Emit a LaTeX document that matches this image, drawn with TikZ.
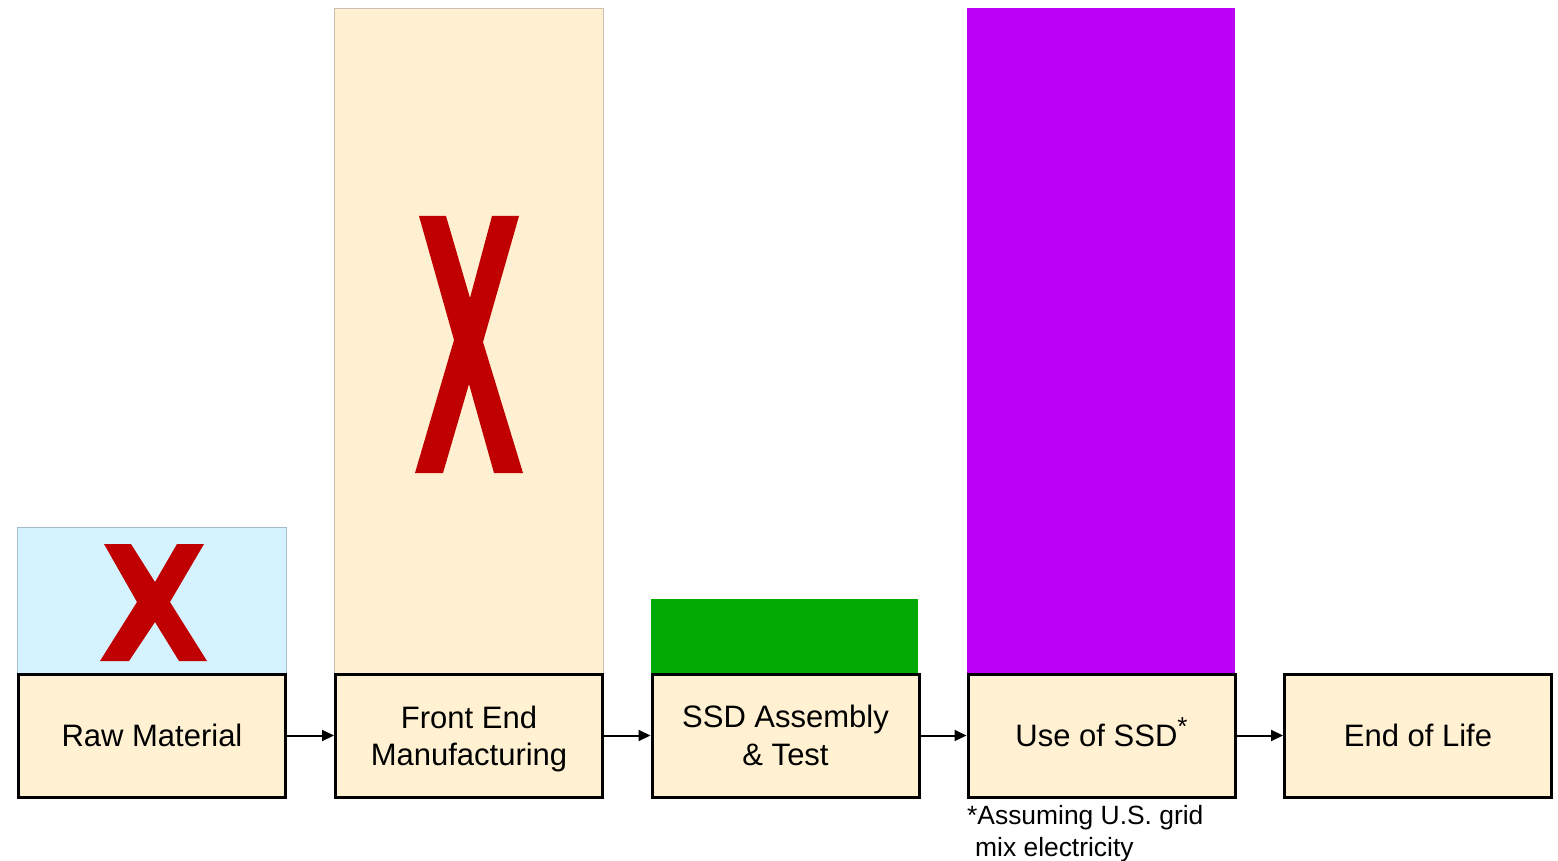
\documentclass[tikz,border=0pt]{standalone}
\usepackage{fontspec}
\setmainfont{Liberation Sans}
\usetikzlibrary{arrows.meta}

\definecolor{boxfill}{HTML}{FFF1D1}
\definecolor{beigebar}{HTML}{FFF0D2}
\definecolor{beigeedge}{HTML}{C9C0B0}
\definecolor{bluebar}{HTML}{D5F2FF}
\definecolor{blueedge}{HTML}{A3BCCB}
\definecolor{greenbar}{HTML}{00AA00}
\definecolor{purplebar}{HTML}{BC00F5}
\definecolor{crossred}{HTML}{C00000}

\tikzset{
  stage/.style={draw=black, line width=3pt, fill=boxfill,
    minimum width=267pt, minimum height=123pt, inner sep=0pt,
    align=center, font=\fontsize{31}{37.5}\selectfont},
  flow/.style={line width=2pt, -{Triangle[length=12pt,width=11pt]}},
  note/.style={anchor=base west, inner sep=0pt, font=\fontsize{26.4}{31}\selectfont},
  cross/.style={fill=crossred}
}

\begin{document}
\begin{tikzpicture}[x=1pt,y=-1pt]
\useasboundingbox (0,0) rectangle (1558,861);

% bars above the stages
\path[fill=bluebar, draw=blueedge, line width=0.8pt] (17,527) rectangle (286,673);
\path[fill=beigebar, draw=beigeedge, line width=0.8pt] (334,8) rectangle (603,673);
\path[fill=greenbar] (651,599) rectangle (918,673);
\path[fill=purplebar] (967,8) rectangle (1235,673);

% crosses
\path[cross] (104,544) -- (131,544) -- (155,582) -- (177,544) -- (204,544)
  -- (170,602) -- (207,661) -- (179,661) -- (155,622) -- (129,661)
  -- (100,661) -- (137,602) -- cycle;
\path[cross] (419,216) -- (446,216) -- (470,298) -- (492,216) -- (519,216)
  -- (483,342) -- (523,473) -- (494,473) -- (469,384) -- (443,473)
  -- (415,473) -- (454,340) -- cycle;

% stages
\node[stage] (raw) at (152,735.5) {Raw Material};
\node[stage] (fem) at (469,735.5)
  {\raisebox{-3.5pt}[\height][\depth]{\parbox{260pt}{\centering Front End\\Manufacturing}}};
\node[stage] (asm) at (785.5,735.5) {SSD Assembly\\\& Test};
\node[stage] (use) at (1101.5,735.5)
  {Use of SSD\raisebox{11pt}[\height][\depth]{\fontsize{26}{26}\selectfont *}};
\node[stage] (eol) at (1418,735.5) {End of Life};

% flow between stages
\draw[flow] (raw) -- (fem);
\draw[flow] (fem) -- (asm);
\draw[flow] (asm) -- (use);
\draw[flow] (use) -- (eol);

% footnote
\node[note] (noteA) at (967,824) {*Assuming U.S. grid};
\node[note] (noteB) at (975,856) {mix electricity};
\end{tikzpicture}
\end{document}
